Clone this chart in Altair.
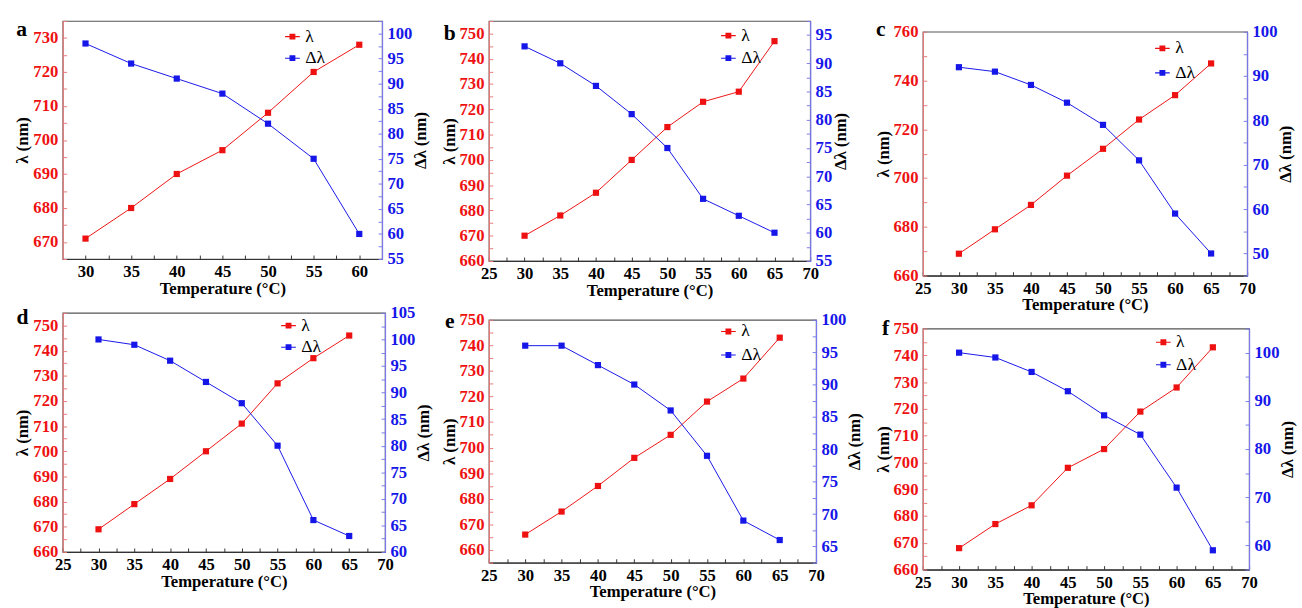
import altair as alt
import pandas as pd

FONT = "Liberation Serif"
RED = "#ee1111"
BLUE = "#1616e8"
RED_AXIS = "#e87a7a"
BLUE_AXIS = "#7a7aee"
DARK = "#333333"

SERIES = ["λ", "Δλ"]
X_TITLE = "Temperature (°C)"
Y1_TITLE = "λ (nm)"
Y2_TITLE = "Δλ (nm)"
LETTERS = ["a", "b", "c", "d", "e", "f"]

temps_a = [30, 35, 40, 45, 50, 55, 60]
lam_a = [671, 680, 690, 697, 708, 720, 728]
dlam_a = [98, 94, 91, 88, 82, 75, 60]

temps = [30, 35, 40, 45, 50, 55, 60, 65]
lam_b = [670, 678, 687, 700, 713, 723, 727, 747]
dlam_b = [93, 90, 86, 81, 75, 66, 63, 60]
lam_c = [669, 679, 689, 701, 712, 724, 734, 747]
dlam_c = [92, 91, 88, 84, 79, 71, 59, 50]
lam_d = [669, 679, 689, 700, 711, 727, 737, 746]
dlam_d = [100, 99, 96, 92, 88, 80, 66, 63]
lam_e = [666, 675, 685, 696, 705, 718, 727, 743]
dlam_e = [96, 96, 93, 90, 86, 79, 69, 66]
lam_f = [668, 677, 684, 698, 705, 719, 728, 743]
dlam_f = [100, 99, 96, 92, 87, 83, 72, 59]

# legend symbol: thin line with a filled square on it
SYMBOL = "M-1,-0.07H1V0.07H-1Z M-0.4,-0.4H0.4V0.4H-0.4Z"


def ticks(lo, hi, step):
    out = []
    v = lo
    while v <= hi + 1e-9:
        out.append(round(v, 3))
        v += step
    return out


def inward(orient, offset, values, color):
    # tick-only axis placed on the opposite edge so that its ticks point into the plot
    return alt.Axis(orient=orient, offset=offset, values=values, labels=False,
                    domain=False, ticks=True, tickSize=4, tickColor=color, title=None,
                    grid=False)


def panel(letter, t, lam, dlam, w, h, xdom, xt, ldom, lt, lstep, rdom, rt, rstep,
          lx, ly, rowpad, tx, ty):
    df_l = pd.DataFrame({"T": t, "v": lam, "s": SERIES[0]})
    df_r = pd.DataFrame({"T": t, "v": dlam, "s": SERIES[1]})
    xs = alt.Scale(domain=xdom, nice=False, zero=False)
    ls = alt.Scale(domain=ldom, nice=False, zero=False)
    rs = alt.Scale(domain=rdom, nice=False, zero=False)

    x_main = alt.X("T:Q", scale=xs,
                   axis=alt.Axis(orient="bottom", values=xt, ticks=False,
                                 labelExpr="datum.value % 5 === 0 ? datum.label : ''",
                                 title=X_TITLE, domainColor=DARK, labelColor="black",
                                 titleY=22, labelPadding=5))
    x_tick = alt.X("T:Q", scale=xs, axis=inward("top", -h, xt, DARK))

    yl_main = alt.Y("v:Q", scale=ls,
                    axis=alt.Axis(orient="left", values=lt, title=Y1_TITLE, ticks=False,
                                  labelExpr=f"datum.value % {lstep} === 0 ? datum.label : ''",
                                  labelColor=RED, domainColor=RED_AXIS, titlePadding=1,
                                  labelPadding=5))
    yl_tick = alt.Y("v:Q", scale=ls, axis=inward("right", -w, lt, RED_AXIS))
    yr_main = alt.Y("v:Q", scale=rs,
                    axis=alt.Axis(orient="right", values=rt, title=Y2_TITLE, ticks=False,
                                  labelExpr=f"datum.value % {rstep} === 0 ? datum.label : ''",
                                  labelColor=BLUE, domainColor=BLUE_AXIS,
                                  titleAngle=270, titleBaseline="top", titlePadding=1,
                                  labelPadding=5))
    yr_tick = alt.Y("v:Q", scale=rs, axis=inward("left", -w, rt, BLUE_AXIS))

    color = alt.Color("s:N", scale=alt.Scale(domain=SERIES, range=[RED, BLUE]),
                      legend=alt.Legend(orient="none", legendX=lx, legendY=ly, title=None,
                                        symbolType=SYMBOL, symbolSize=225,
                                        symbolStrokeWidth=0, labelFont=FONT,
                                        labelFontSize=18, labelOffset=4,
                                        rowPadding=rowpad, padding=0))
    bl = alt.Chart(df_l)
    br = alt.Chart(df_r)
    left = alt.layer(
        bl.mark_line(color=RED, strokeWidth=1).encode(x=x_main, y=yl_main),
        bl.mark_point(shape="square", filled=True, size=40, opacity=1).encode(
            x=x_main, y=yl_tick, color=color),
    ).resolve_axis(y="independent")
    right = alt.layer(
        br.mark_line(color=BLUE, strokeWidth=1).encode(x=x_tick, y=yr_main),
        br.mark_point(shape="square", filled=True, size=40, opacity=1).encode(
            x=x_tick, y=yr_tick, color=color),
    ).resolve_axis(y="independent")
    lab = alt.Chart(pd.DataFrame({"t": [letter]})).mark_text(
        font=FONT, fontSize=22, fontWeight="bold", align="center", baseline="alphabetic",
        color="black").encode(text="t:N", x=alt.value(tx), y=alt.value(ty))
    return alt.layer(left, right, lab).resolve_scale(y="independent").resolve_axis(
        x="independent").properties(width=w, height=h)


XT_A = ticks(30, 60, 2.5)
XT = ticks(25, 70, 2.5)

pa = panel(LETTERS[0], temps_a, lam_a, dlam_a, 326, 243, [27.5, 62.5], XT_A,
           [665, 735], ticks(665, 735, 5), 10, [55, 102.5], ticks(55, 102.5, 2.5), 5,
           225.5, 7, 4, -42, 15)
pb = panel(LETTERS[1], temps, lam_b, dlam_b, 328, 245, [25, 70], XT,
           [660, 755], ticks(660, 755, 5), 10, [55, 97.5], ticks(55, 97.5, 2.5), 5,
           235.5, 6, 5, -40, 19)
pc = panel(LETTERS[2], temps, lam_c, dlam_c, 331, 249, [25, 70], XT,
           [660, 760], ticks(660, 760, 10), 20, [45, 100], ticks(45, 100, 5), 10,
           235.5, 8, 7, -43, 4)
pd_ = panel(LETTERS[3], temps, lam_d, dlam_d, 329, 244, [25, 70], XT,
            [660, 755], ticks(660, 755, 5), 10, [60, 105], ticks(60, 105, 2.5), 5,
            221.5, 4, 4, -41, 11)
pe = panel(LETTERS[4], temps, lam_e, dlam_e, 334, 248, [25, 70], XT,
           [655, 750], ticks(655, 750, 5), 10, [62.5, 100], ticks(62.5, 100, 2.5), 5,
           235.5, 3, 6, -40, 8)
pf = panel(LETTERS[5], temps, lam_f, dlam_f, 333, 246, [25, 70], XT,
           [660, 750], ticks(660, 750, 5), 10, [55, 105], ticks(55, 105, 5), 10,
           236.5, 5, 5, -38, 7)

spacer = alt.Chart(pd.DataFrame({"z": [0]})).mark_point(opacity=0, size=1).encode(
    x=alt.value(0), y=alt.value(0)).properties(
    width=10, height=2, view=alt.ViewBackground(strokeOpacity=0))

col1 = alt.vconcat(pa, pd_, spacing=6).resolve_scale(color="independent")
col2 = alt.vconcat(pb, pe, spacing=10).resolve_scale(color="independent")
col3in = alt.vconcat(pc, pf, spacing=3).resolve_scale(color="independent")
col3 = alt.vconcat(spacer, col3in, spacing=-6).resolve_scale(color="independent")

left2 = alt.hconcat(col1, col2, spacing=6).resolve_scale(color="independent")
chart = alt.hconcat(left2, col3, spacing=9).resolve_scale(color="independent")

chart = chart.properties(padding={"left": 13, "top": 5, "right": 5, "bottom": 1}).configure(
    font=FONT
).configure_axis(
    labelFont=FONT, labelFontSize=17, labelFontWeight="bold",
    titleFont=FONT, titleFontSize=17, titleFontWeight="bold", titleColor="black",
    grid=False, domainWidth=1.2, tickWidth=1,
    labelOverlap=False, labelFlush=False,
).configure_view(stroke="#555555", strokeWidth=1.2)

chart.save("out.html", embed_options={"renderer": "svg", "actions": False})
